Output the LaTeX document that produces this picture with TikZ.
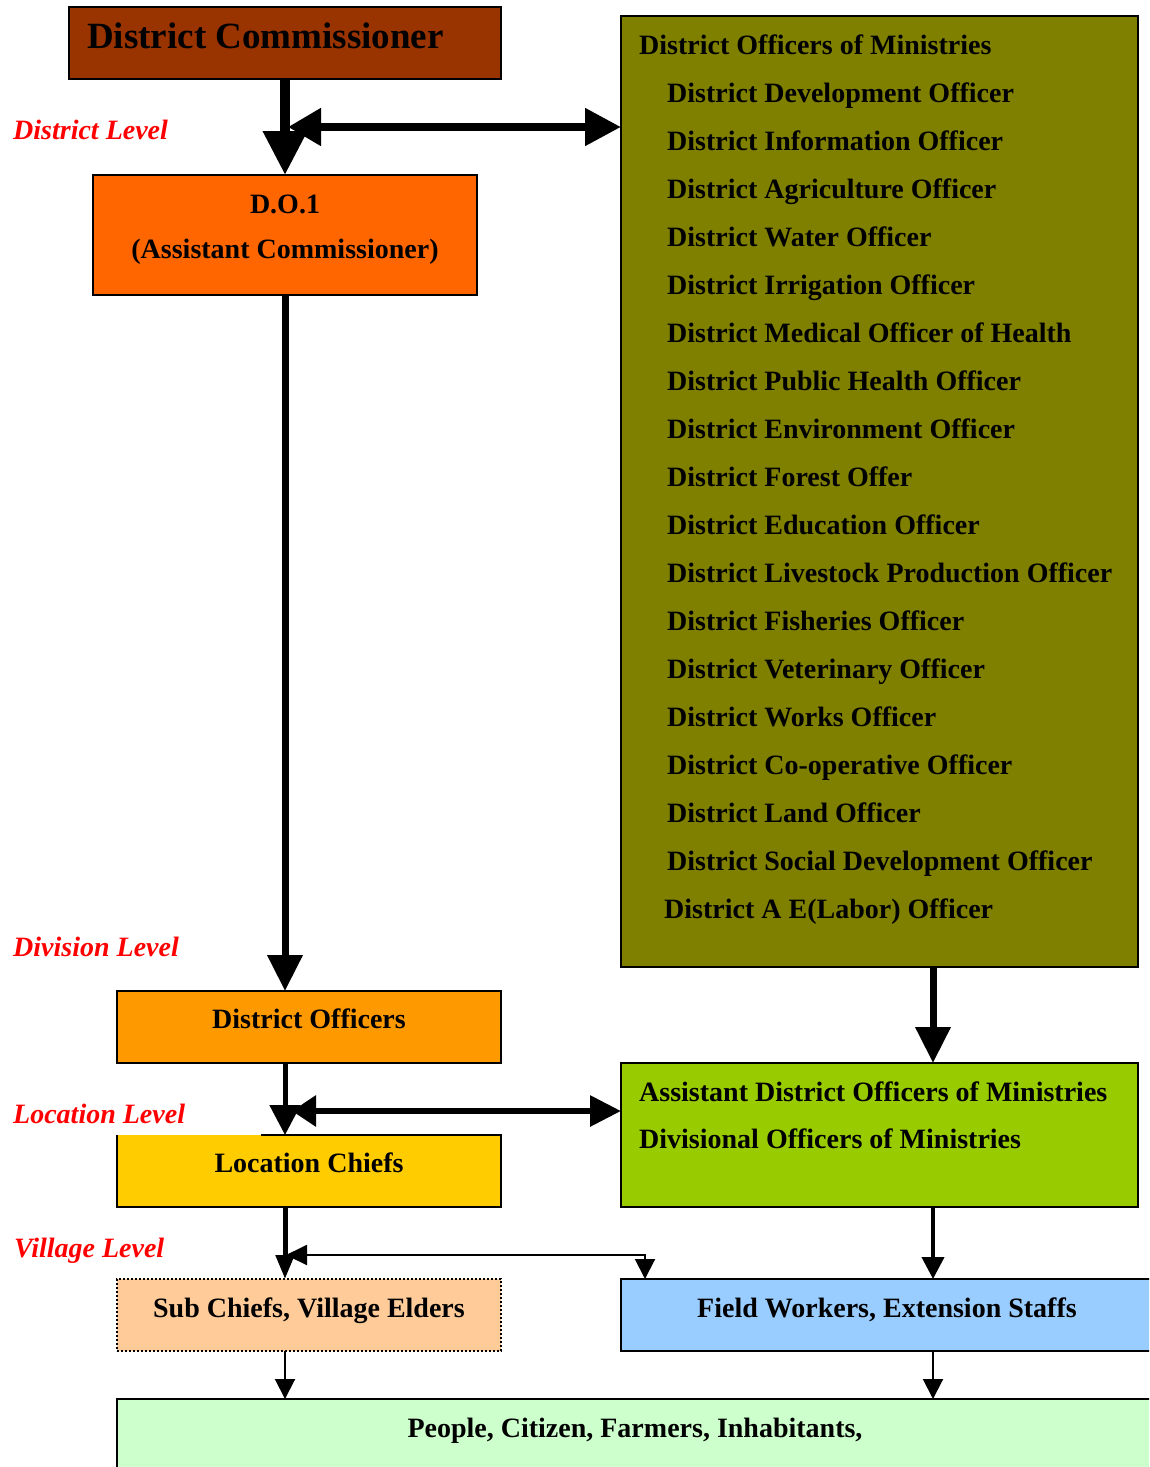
\documentclass[tikz,border=0pt]{standalone}
\usepackage{fontspec}
\setmainfont{Liberation Serif}
\usetikzlibrary{arrows.meta,calc}
\definecolor{dcbrown}{HTML}{993300}
\definecolor{doorange}{HTML}{FF6600}
\definecolor{olivebox}{HTML}{808000}
\definecolor{dofcol}{HTML}{FF9900}
\definecolor{loccol}{HTML}{FFCC00}
\definecolor{asscol}{HTML}{99CC00}
\definecolor{subcol}{HTML}{FFCC99}
\definecolor{fwcol}{HTML}{99CCFF}
\definecolor{pplcol}{HTML}{CCFFCC}
\begin{document}
\begin{tikzpicture}[x=1pt,y=-1pt,
  box/.style={draw=black, line width=1.5pt, inner sep=0pt, outer sep=0pt, anchor=north west},
  txt/.style={font=\fontsize{28}{28}\selectfont\bfseries, inner sep=0pt, anchor=base west},
  ctxt/.style={font=\fontsize{28}{28}\selectfont\bfseries, inner sep=0pt, anchor=base},
  lvl/.style={font=\fontsize{28}{28}\selectfont\bfseries\itshape, text=red, inner sep=0pt, anchor=base west},
]
\clip (0,0) rectangle (1149,1467);
\fill[white] (0,0) rectangle (1149,1467);

% boxes
\node[box, fill=dcbrown, minimum width=432pt, minimum height=72pt] (dc) at (69,7) {};
\node[box, fill=doorange, minimum width=384pt, minimum height=120pt] (do1) at (93,175) {};
\node[box, fill=olivebox, minimum width=517pt, minimum height=951pt] (dom) at (621,16) {};
\node[box, fill=dofcol, minimum width=384pt, minimum height=72pt] (dof) at (117,991) {};
\node[box, fill=asscol, minimum width=517pt, minimum height=144pt] (ass) at (621,1063) {};
\node[box, draw=none, fill=loccol, minimum width=384pt, minimum height=72pt] (loc) at (117,1135) {};
\draw[line width=1.5pt] ($(loc.north west)+(144,0)$) -- (loc.north east) -- (loc.south east) -- (loc.south west) -- (loc.north west);
\node[box, fill=subcol, line width=2pt, dash pattern=on 2pt off 2pt, minimum width=384pt, minimum height=72pt] (sub) at (117,1279) {};
\node[box, fill=fwcol, minimum width=532pt, minimum height=72pt] (fw) at (621,1279) {};
\node[box, fill=pplcol, minimum width=1036pt, minimum height=120pt] (ppl) at (117,1399) {};

% texts
\node[font=\fontsize{37}{37}\selectfont\bfseries, inner sep=0pt, anchor=base west] (dct) at (87,48) {District Commissioner};
\node[ctxt] (do1a) at (285,213) {D.O.1};
\node[ctxt] (do1b) at (285,258) {(Assistant Commissioner)};
\node[txt] (h0) at (639,54) {District Officers of Ministries};
\foreach \t [count=\i] in {District Development Officer, District Information Officer, District Agriculture Officer, District Water Officer, District Irrigation Officer, District Medical Officer of Health, District Public Health Officer, District Environment Officer, District Forest Offer, District Education Officer, District Livestock Production Officer, District Fisheries Officer, District Veterinary Officer, District Works Officer, District Co-operative Officer, District Land Officer, District Social Development Officer}
  \node[txt] (m\i) at (667,{54+48*\i}) {\t};
\node[txt] (m18) at (664,918) {District A E(Labor) Officer};
\node[ctxt] (doft) at (309,1028) {District Officers};
\node[txt] (assa) at (639,1101) {Assistant District Officers of Ministries};
\node[txt] (assb) at (639,1148) {Divisional Officers of Ministries};
\node[ctxt] (loct) at (309,1172) {Location Chiefs};
\node[ctxt] (subt) at (309,1317) {Sub Chiefs, Village Elders};
\node[ctxt] (fwt) at (887,1317) {Field Workers, Extension Staffs};
\node[ctxt] (pplt) at (635,1437) {People, Citizen, Farmers, Inhabitants,};

% level labels
\node[lvl] (l1) at (13,139) {District Level};
\node[lvl] (l2) at (13,956) {Division Level};
\node[lvl] (l3) at (13,1123) {Location Level};
\node[lvl] (l4) at (14,1257) {Village Level};

% connectors
\draw[line width=10pt, -{Triangle[width=42pt,length=44pt]}] (dc.south) -- (do1.north);
\coordinate (j1) at (288,127);
\draw[line width=8pt, {Triangle[width=36pt,length=33pt]}-{Triangle[width=36pt,length=36pt]}] (j1) -- (j1 -| dom.west);
\draw[line width=7pt, -{Triangle[width=34pt,length=36pt]}] (do1.south) -- (do1.south |- dof.north);
\draw[line width=7pt, -{Triangle[width=34pt,length=36pt]}] ($(dom.south west)+(312,0)$) -- ($(ass.north west)+(312,0)$);
\draw[line width=5pt, -{Triangle[width=30pt,length=30pt]}] (dof.south west -| do1.south) -- (loc.north west -| do1.south);
\coordinate (j2) at (292,1111);
\draw[line width=6pt, {Triangle[width=30pt,length=24pt]}-{Triangle[width=30pt,length=31pt]}] (j2) -- (j2 -| ass.west);
\draw[line width=5pt, -{Triangle[width=18pt,length=24pt]}] (loc.south west -| do1.south) -- (sub.north west -| do1.south);
\coordinate (j3) at (286,1255);
\coordinate (j3r) at (645,1255);
\draw[line width=2pt, {Triangle[width=20pt,length=21pt]}-{Triangle[width=20pt,length=20pt]}] (j3) -- (j3r) -- (j3r |- fw.north);
\draw[line width=4pt, -{Triangle[width=22pt,length=22pt]}] ($(ass.south west)+(312,0)$) -- ($(fw.north west)+(312,0)$);
\draw[line width=2pt, -{Triangle[width=20pt,length=20pt]}] (sub.south west -| do1.south) -- (ppl.north west -| do1.south);
\draw[line width=2pt, -{Triangle[width=20pt,length=20pt]}] ($(fw.south west)+(312,0)$) -- ($(ppl.north west)+(816,0)$);
\end{tikzpicture}
\end{document}
